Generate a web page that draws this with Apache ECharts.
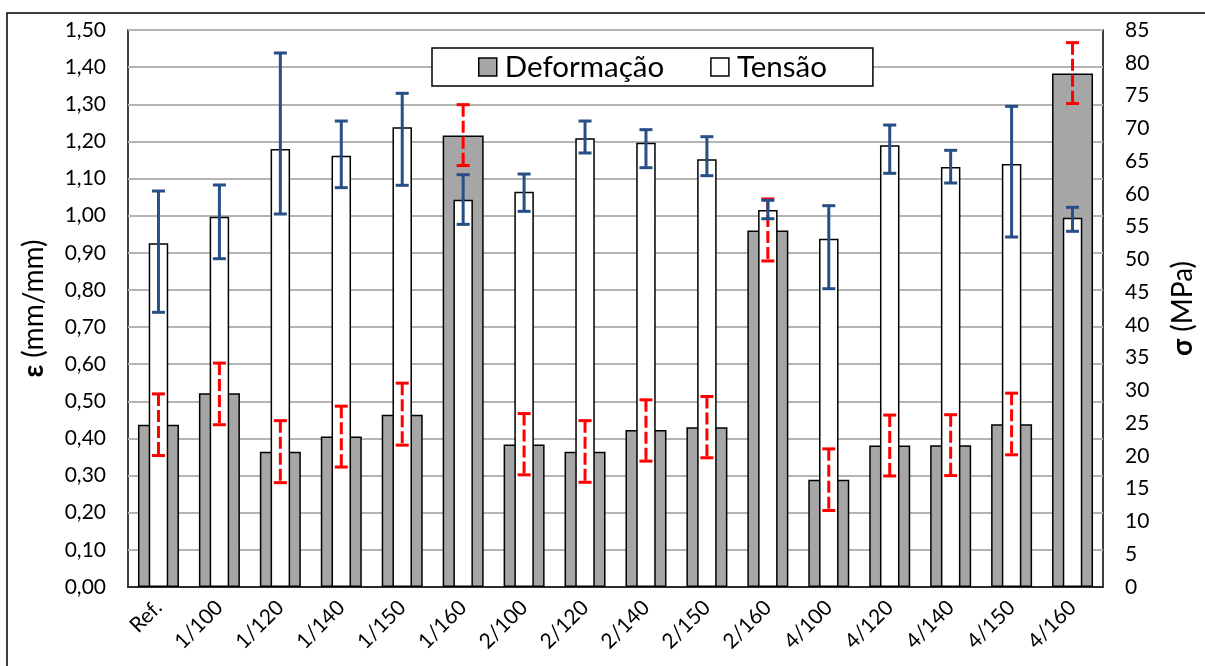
<!DOCTYPE html>
<html>
<head>
<meta charset="utf-8">
<script src="https://cdn.jsdelivr.net/npm/echarts@6/dist/echarts.min.js"></script>
<style>
html,body{margin:0;padding:0;background:#fff;}
#chart{width:1205px;height:666px;}
</style>
</head>
<body>
<div id="chart"></div>
<script>
const categories = ['Ref.','1/100','1/120','1/140','1/150','1/160','2/100','2/120','2/140','2/150','2/160','4/100','4/120','4/140','4/150','4/160'];
const deformacao     = [0.437,0.522,0.364,0.405,0.464,1.216,0.384,0.364,0.423,0.430,0.960,0.289,0.381,0.382,0.438,1.383];
const deformacaoHigh = [0.520,0.603,0.448,0.487,0.549,1.299,0.467,0.448,0.504,0.513,1.045,0.372,0.463,0.464,0.522,1.466];
const deformacaoLow  = [0.354,0.437,0.281,0.323,0.382,1.135,0.302,0.282,0.339,0.348,0.878,0.206,0.299,0.300,0.356,1.302];
const tensao     = [52.45,56.51,66.84,65.82,70.15,59.11,60.33,68.47,67.80,65.27,57.53,53.15,67.40,64.09,64.55,56.36];
const tensaoHigh = [60.43,61.35,81.49,71.11,75.34,62.92,63.02,71.11,69.79,68.72,59.01,58.19,70.50,66.64,73.35,57.94];
const tensaoLow  = [41.92,50.10,56.92,60.94,61.30,55.34,57.33,66.23,63.99,62.77,56.20,45.52,63.13,61.65,53.41,54.28];

const FONT = 'Lato, "Open Sans", sans-serif';

function errRender(color, dashed) {
  return function (params, api) {
    const i = api.value(0);
    const lo = api.coord([i, api.value(1)]);
    const hi = api.coord([i, api.value(2)]);
    const half = 6.5;
    const base = { stroke: color, lineWidth: 3, fill: null };
    return {
      type: 'group',
      children: [
        { type: 'line', shape: { x1: hi[0], y1: hi[1], x2: lo[0], y2: lo[1] },
          style: Object.assign({}, base, dashed ? { lineDash: [12, 4] } : {}) },
        { type: 'line', shape: { x1: hi[0] - half, y1: hi[1], x2: hi[0] + half, y2: hi[1] }, style: base },
        { type: 'line', shape: { x1: lo[0] - half, y1: lo[1], x2: lo[0] + half, y2: lo[1] }, style: base }
      ]
    };
  };
}

const chart = echarts.init(document.getElementById('chart'), null, { renderer: 'canvas' });
chart.setOption({
  backgroundColor: '#fff',
  animation: false,
  textStyle: { fontFamily: FONT },
  graphic: [{
    type: 'rect', z: -10, silent: true,
    shape: { x: 7, y: 13, width: 1220, height: 700 },
    style: { fill: null, stroke: '#000', lineWidth: 1.5 }
  }],
  legend: {
    left: 432, top: 48,
    data: ['Deformação', 'Tensão'],
    icon: 'rect',
    itemWidth: 18, itemHeight: 18, itemGap: 46,
    backgroundColor: '#fff',
    borderColor: '#000', borderWidth: 1.5, borderRadius: 0,
    padding: [4, 46, 4, 46],
    itemStyle: { borderColor: '#000', borderWidth: 1.5 },
    textStyle: { fontFamily: FONT, fontSize: 29.5, color: '#000', padding: [0, 0, 0, 3] }
  },
  grid: {
    left: 128, right: 102, top: 30, bottom: 79,
    show: true, borderColor: '#000', borderWidth: 1.5, backgroundColor: 'transparent'
  },
  xAxis: [{
    type: 'category', data: categories,
    axisTick: { show: false },
    axisLine: { lineStyle: { color: '#000', width: 1.5 } },
    axisLabel: { rotate: 45, fontSize: 21, color: '#000', margin: 17, fontFamily: FONT, interval: 0 }
  }, {
    type: 'category', data: categories, show: false
  }],
  yAxis: [{
    type: 'value', min: 0, max: 1.5, interval: 0.1,
    name: '{b|ε} (mm/mm)', nameLocation: 'middle', nameGap: 80, nameRotate: 90,
    nameTextStyle: { fontSize: 28, color: '#000', fontFamily: FONT,
      rich: { b: { fontSize: 28, fontWeight: 'bold', color: '#000', fontFamily: FONT } } },
    axisLine: { show: false }, axisTick: { show: false },
    axisLabel: { fontSize: 21, color: '#000', margin: 22, fontFamily: FONT,
      formatter: v => v.toFixed(2).replace('.', ',') },
    splitLine: { lineStyle: { color: '#b4b4b4', width: 2 } }
  }, {
    type: 'value', min: 0, max: 85, interval: 5, position: 'right',
    name: '{b|σ} (MPa)', nameLocation: 'middle', nameGap: 66, nameRotate: 90,
    nameTextStyle: { fontSize: 28, color: '#000', fontFamily: FONT,
      rich: { b: { fontSize: 28, fontWeight: 'bold', color: '#000', fontFamily: FONT } } },
    axisLine: { show: false }, axisTick: { show: false },
    axisLabel: { fontSize: 21, color: '#000', margin: 22, fontFamily: FONT },
    splitLine: { show: false }
  }],
  series: [{
    name: 'Deformação', type: 'bar', xAxisIndex: 0, yAxisIndex: 0,
    data: deformacao, barWidth: 41, z: 2,
    itemStyle: { color: '#a6a6a6', borderColor: '#000', borderWidth: 1.5 }
  }, {
    name: 'Tensão', type: 'bar', xAxisIndex: 1, yAxisIndex: 1,
    data: tensao, barWidth: 19.5, z: 3,
    itemStyle: { color: '#fff', borderColor: '#000', borderWidth: 1.5 }
  }, {
    name: 'errDef', type: 'custom', xAxisIndex: 0, yAxisIndex: 0, z: 5,
    renderItem: errRender('#ff0000', true),
    data: categories.map((c, i) => [i, deformacaoLow[i], deformacaoHigh[i]])
  }, {
    name: 'errTen', type: 'custom', xAxisIndex: 0, yAxisIndex: 1, z: 6,
    renderItem: errRender('#264f85', false),
    data: categories.map((c, i) => [i, tensaoLow[i], tensaoHigh[i]])
  }]
});
</script>
</body>
</html>
